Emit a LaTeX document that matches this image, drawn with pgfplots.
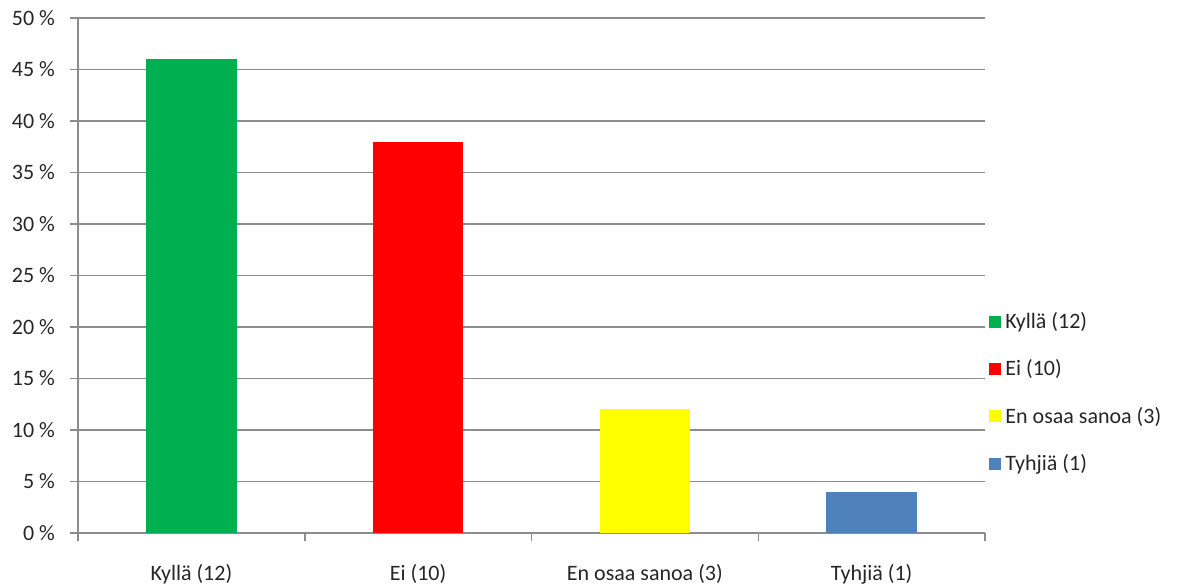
\documentclass[border=0pt]{standalone}
\usepackage{fontspec}
\setmainfont{Carlito}
\usepackage{pgfplots}
\pgfplotsset{compat=1.18}
\definecolor{cgreen}{HTML}{00B050}
\definecolor{cred}{HTML}{FF0000}
\definecolor{cyellow}{HTML}{FFFF00}
\definecolor{cblue}{HTML}{4F81BD}
\definecolor{gridgray}{HTML}{8C8C8C}
\definecolor{txt}{HTML}{262626}
\begin{document}
\begin{tikzpicture}
\useasboundingbox (-39pt,-26.5pt) rectangle (551.5pt,266.5pt);
\begin{axis}[
  at={(0pt,0pt)}, anchor=south west,
  scale only axis, width=453.5pt, height=257.5pt,
  xmin=0.5, xmax=4.5, ymin=0, ymax=50,
  ytick={0,5,...,50},
  xtick={0.5,1.5,2.5,3.5,4.5},
  xticklabels={Kyllä (12), Ei (10), En osaa sanoa (3), Tyhjiä (1)},
  x tick label as interval,
  axis lines=left,
  axis line style={draw=gridgray, line width=0.75pt, -},
  ymajorgrids,
  grid style={draw=gridgray, line width=0.75pt},
  tick align=outside,
  major tick length=4pt,
  tick style={draw=gridgray, line width=0.75pt},
  /pgf/number format/assume math mode=true,
  yticklabel={\pgfmathprintnumber{\tick}~\%},
  tick label style={font=\fontsize{11}{13}\selectfont, text=txt},
  yticklabel style={xshift=-4pt},
  xticklabel style={yshift=-8pt},
  legend style={at={(1,0.272)}, anchor=west, xshift=-1pt, draw=none, fill=none,
    font=\fontsize{11}{13}\selectfont, text=txt, row sep=10pt},
  legend cell align=left,
  legend image code/.code={\fill[#1] (0pt,-3pt) rectangle (6pt,3pt);},
]
\addplot[ybar, bar width=0.4, bar shift=0pt, fill=cgreen, draw=none] coordinates {(1,46)};
\addlegendentry{Kyllä (12)}
\addplot[ybar, bar width=0.4, bar shift=0pt, fill=cred, draw=none] coordinates {(2,38)};
\addlegendentry{Ei (10)}
\addplot[ybar, bar width=0.4, bar shift=0pt, fill=cyellow, draw=none] coordinates {(3,12)};
\addlegendentry{En osaa sanoa (3)}
\addplot[ybar, bar width=0.4, bar shift=0pt, fill=cblue, draw=none] coordinates {(4,4)};
\addlegendentry{Tyhjiä (1)}
\end{axis}
\end{tikzpicture}
\end{document}
